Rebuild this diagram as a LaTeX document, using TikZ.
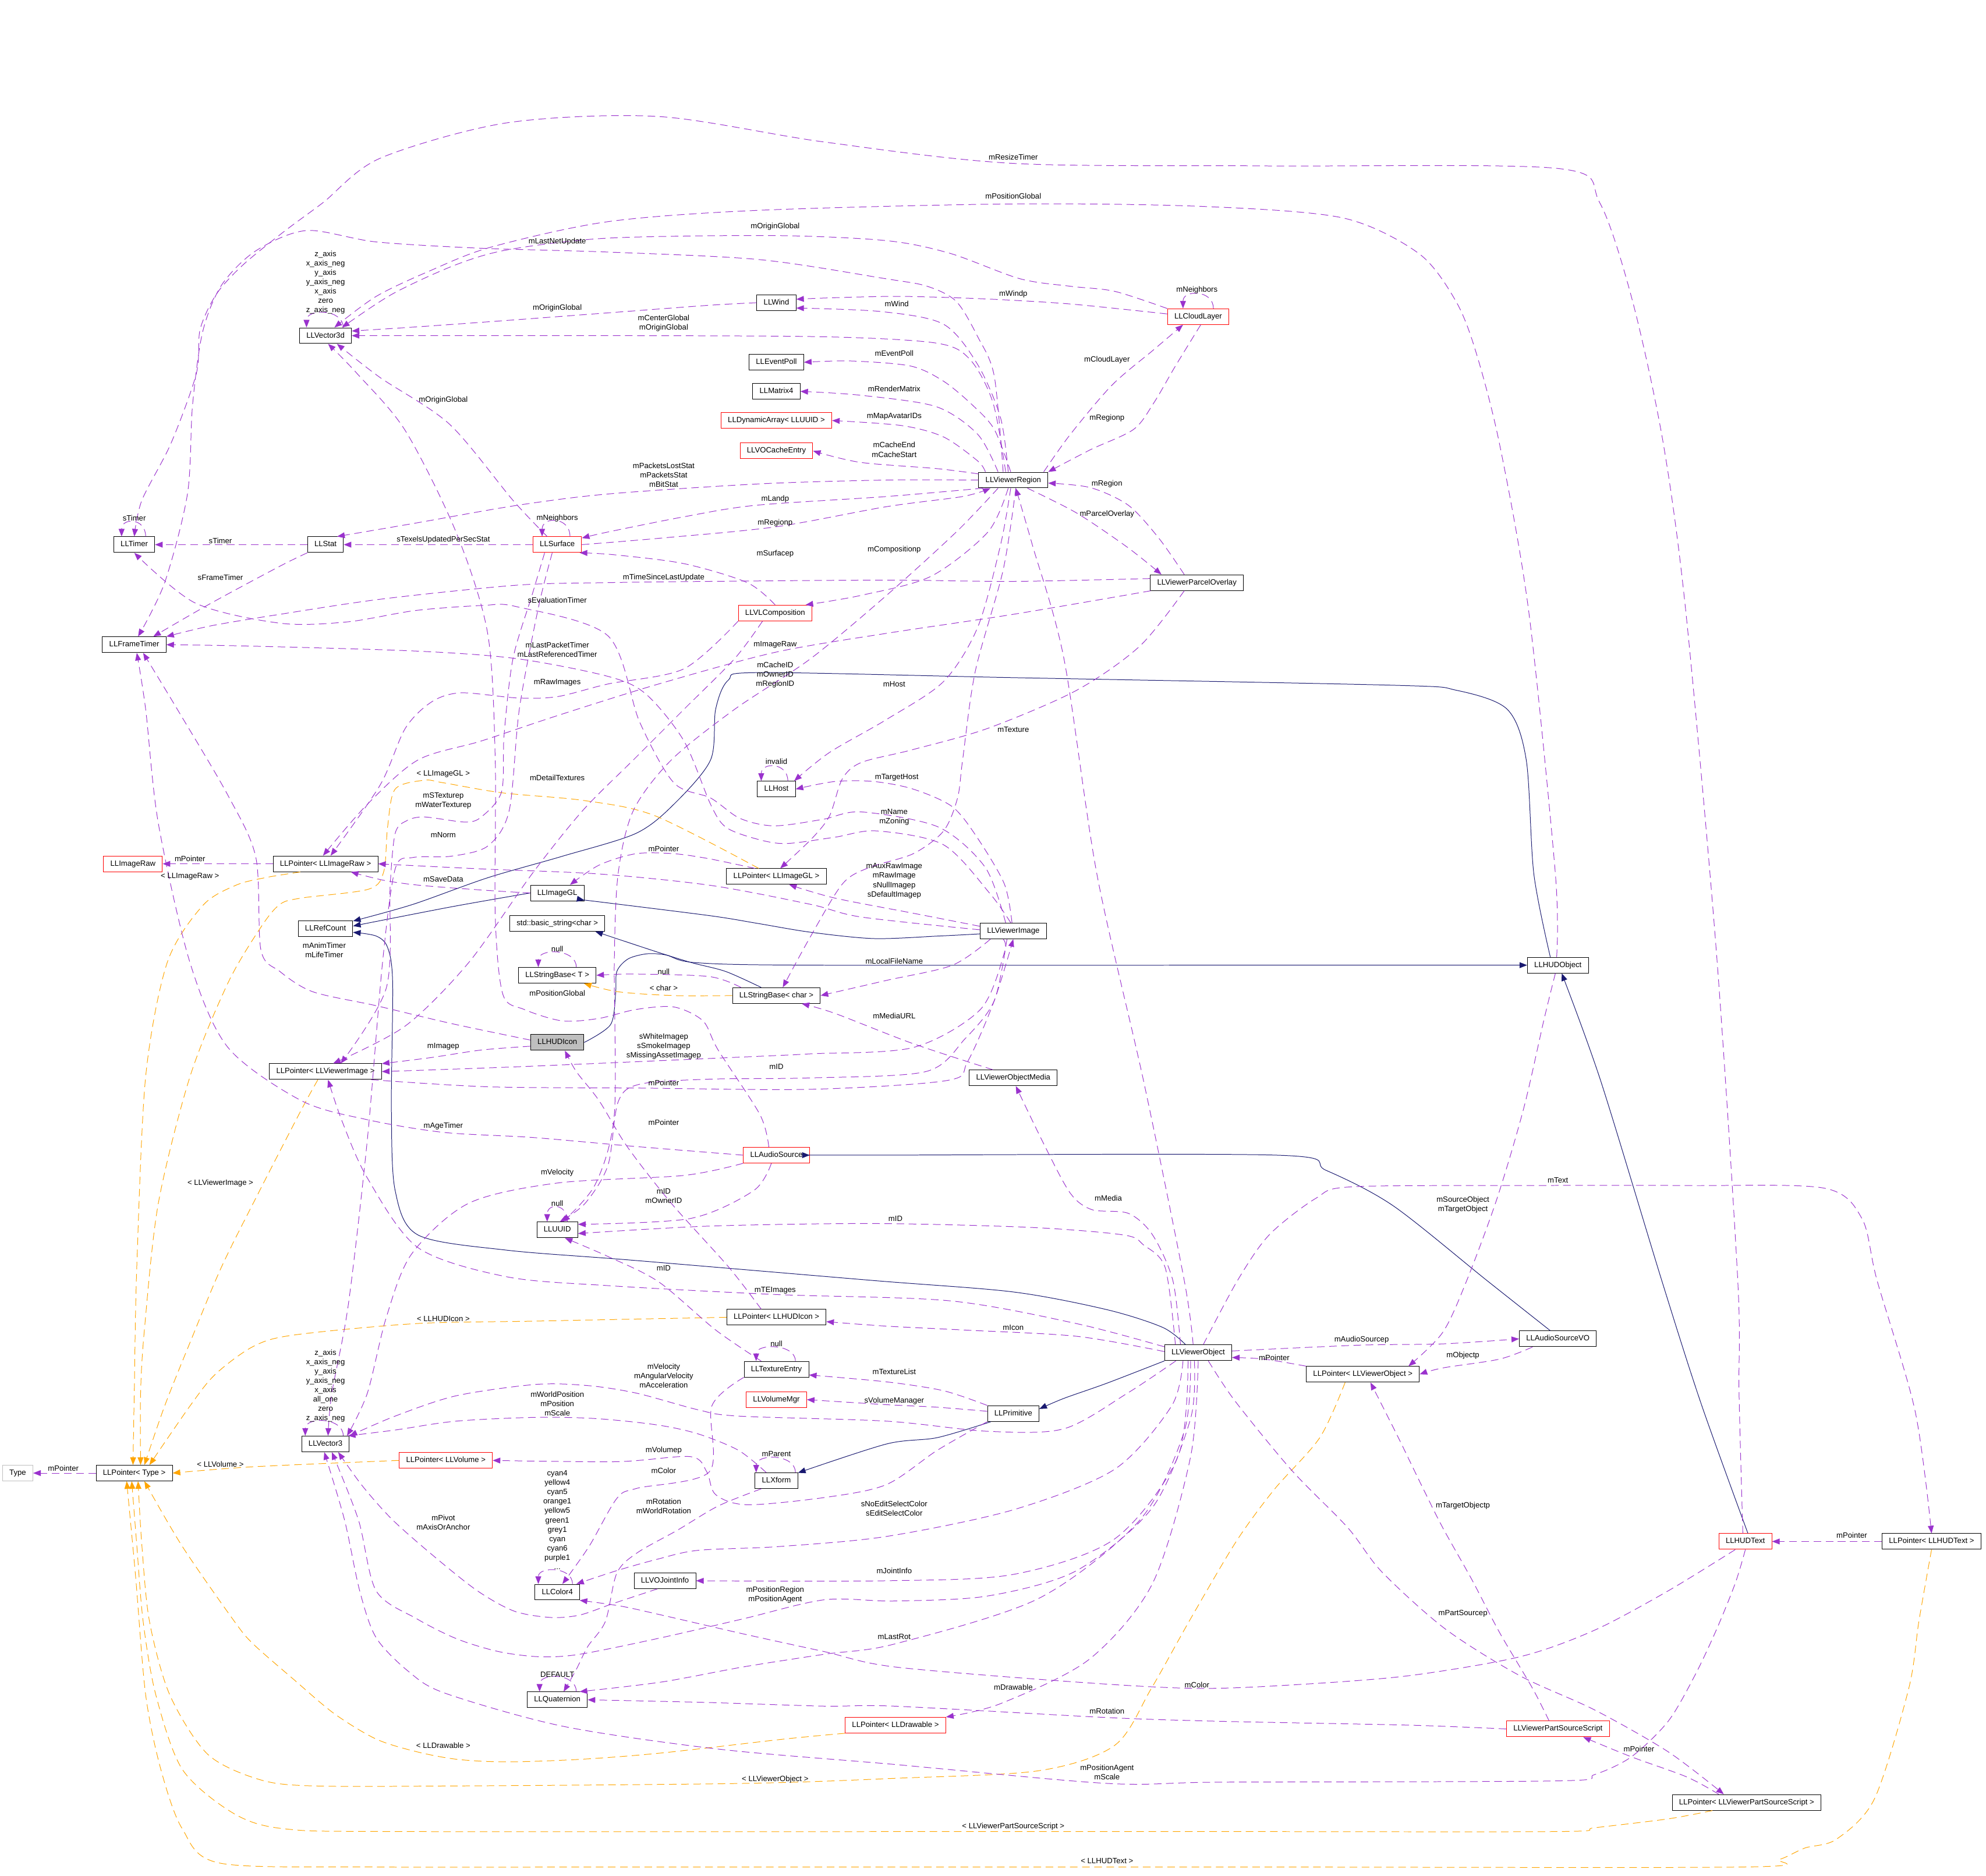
\documentclass[tikz,border=0pt]{standalone}
\usepackage{fontspec}
\setmainfont{Liberation Sans}
\usepackage{tikz}
\usetikzlibrary{arrows.meta}
\definecolor{memc}{RGB}{154,50,205}
\definecolor{inhc}{RGB}{25,25,112}
\definecolor{tplc}{RGB}{255,165,0}
\definecolor{docc}{RGB}{191,191,191}
\newcommand{\dxf}{\fontsize{8.6}{10.5}\selectfont}

\begin{document}
\begin{tikzpicture}[x=0.05cm, y=-0.05cm, line width=0.65pt,
  cls/.style={draw, font=\dxf, inner xsep=0.27cm, inner ysep=0pt, minimum height=0.62cm, text height=6.3pt, text depth=1.7pt},
  undoc/.style={cls, draw=red},
  doc/.style={cls, fill=docc},
  ext/.style={cls, draw=docc},
  lbl/.style={font=\dxf, align=center, inner sep=0pt},
  hd/.style={-{Triangle[length=3mm, width=2.3mm]}},
  mem/.style={hd, draw=memc, dash pattern=on 3mm off 1.8mm},
  inh/.style={hd, draw=inhc},
  tpl/.style={hd, draw=tplc, dash pattern=on 3mm off 1.8mm}]
\useasboundingbox (0,0) rectangle (1568,1481);

% classes
\node[cls] (v3d) at (257,265) {LLVector3d};
\node[cls] (wind) at (613,239) {LLWind};
\node[undoc] (cloud) at (946,250) {LLCloudLayer};
\node[cls] (poll) at (613,286) {LLEventPoll};
\node[cls] (mat) at (613,309) {LLMatrix4};
\node[undoc] (dyn) at (613,332) {LLDynamicArray< LLUUID >};
\node[undoc] (cache) at (613,356) {LLVOCacheEntry};
\node[cls] (reg) at (800,379) {LLViewerRegion};
\node[cls] (tmr) at (106,430) {LLTimer};
\node[cls] (stat) at (257,430) {LLStat};
\node[undoc] (surf) at (440,430) {LLSurface};
\node[cls] (parc) at (945,460) {LLViewerParcelOverlay};
\node[undoc] (comp) at (612,484) {LLVLComposition};
\node[cls] (ftmr) at (106,509) {LLFrameTimer};
\node[cls] (host) at (613,623) {LLHost};
\node[undoc] (raw) at (105,682) {LLImageRaw};
\node[cls] (praw) at (257,682) {LLPointer< LLImageRaw >};
\node[cls] (pgl) at (613,692) {LLPointer< LLImageGL >};
\node[cls] (gl) at (440,705) {LLImageGL};
\node[cls] (ref) at (257,733) {LLRefCount};
\node[cls] (bstr) at (440,729) {std::basic\_string<char >};
\node[cls] (vimg) at (800,735) {LLViewerImage};
\node[cls] (hobj) at (1230,762) {LLHUDObject};
\node[cls] (sbt) at (440,770) {LLStringBase< T >};
\node[cls] (sbc) at (613,786) {LLStringBase< char >};
\node[doc] (icon) at (440,823) {LLHUDIcon};
\node[cls] (pvimg) at (257,846) {LLPointer< LLViewerImage >};
\node[cls] (media) at (800,851) {LLViewerObjectMedia};
\node[undoc] (asrc) at (613,912) {LLAudioSource};
\node[cls] (uuid) at (440,971) {LLUUID};
\node[cls] (picon) at (613,1040) {LLPointer< LLHUDIcon >};
\node[cls] (vobj) at (946,1068) {LLViewerObject};
\node[cls] (asvo) at (1230,1057) {LLAudioSourceVO};
\node[cls] (tex) at (613,1081) {LLTextureEntry};
\node[cls] (pvobj) at (1076,1085) {LLPointer< LLViewerObject >};
\node[undoc] (vmgr) at (613,1105) {LLVolumeMgr};
\node[cls] (prim) at (800,1116) {LLPrimitive};
\node[cls] (v3) at (257,1140) {LLVector3};
\node[undoc] (pvol) at (352,1153) {LLPointer< LLVolume >};
\node[ext] (type) at (14,1163) {Type};
\node[cls] (ptype) at (106,1163) {LLPointer< Type >};
\node[cls] (xf) at (613,1169) {LLXform};
\node[undoc] (htxt) at (1378,1217) {LLHUDText};
\node[cls] (phtxt) at (1525,1217) {LLPointer< LLHUDText >};
\node[cls] (joint) at (525,1248) {LLVOJointInfo};
\node[cls] (col) at (440,1257) {LLColor4};
\node[cls] (quat) at (440,1342) {LLQuaternion};
\node[undoc] (pss) at (1230,1365) {LLViewerPartSourceScript};
\node[undoc] (pdraw) at (707,1362) {LLPointer< LLDrawable >};
\node[cls] (ppss) at (1379,1423) {LLPointer< LLViewerPartSourceScript >};

% inheritance
\draw[inh] plot[smooth] coordinates {(icon.east) (482,809) (486,785) (487,767) (496,757) (511,753) (526,754) (549,760) (640,762) (1000,762) (hobj.west)};
\draw[inh] plot[smooth] coordinates {([xshift=-3mm]hobj.north) (1211,690) (1205,600) (1190,560) (1150,545) (1100,541) (800,535) (600,531) (575,537) (565,560) (561,600) (532,635) (502,658) (444,676) (385,693) (326,714) (ref.15)};
\draw[inh] plot[smooth] coordinates {(gl.west) (356,716) (ref.5)};
\draw[inh] plot[smooth] coordinates {([xshift=-5mm]vobj.north) (918,1048) (874,1034) (800,1020) (690,1011) (500,995) (400,987) (330,975) (312,940) (309,876) (310,776) (306,748) (297,739) (ref.-8)};
\draw[inh] plot[smooth] coordinates {(vimg.185) (741,739) (690,741) (640,736) (598,729) (561,723) (473,712) (gl.-15)};
\draw[inh] plot[smooth] coordinates {([xshift=-6mm]sbc.north) (573,767) (546,760) (517,751) ([xshift=15mm]bstr.south)};
\draw[inh] plot[smooth] coordinates {([xshift=-3mm]asvo.north) (1174,1011) (1100,952) (1047,924) (1008,912) (690,912) (asrc.east)};
\draw[inh] plot[smooth] coordinates {(vobj.south west) (874,1092) (840,1104) (prim.10)};
\draw[inh] plot[smooth] coordinates {(prim.-160) (740,1135) (700,1140) (xf.20)};
\draw[inh] plot[smooth] coordinates {([xshift=1mm]htxt.north) (1343,1108) (1312,1011) (1264,854) ([xshift=1.5mm]hobj.south)};

% templates
\draw[tpl] plot[smooth] coordinates {([xshift=-10mm]praw.south) (209,693) (186,699) (160,715) (132,760) (115,850) (108,1000) (106,1100) ([xshift=-0.5mm]ptype.north)};
\draw[tpl] plot[smooth] coordinates {([xshift=-7mm]pgl.north) (517,644) (461,632) (397,626) (350,618) (335,616) (312,623) (306,653) (303,688) (291,702) (238,709) (221,714) (206,732) (180,776) (150,850) (125,950) (114,1050) (111,1100) ([xshift=2.5mm]ptype.north)};
\draw[tpl] plot[smooth] coordinates {([xshift=-3mm]pvimg.south) (238,876) (205,940) (175,1000) (150,1060) (130,1110) ([xshift=4mm]ptype.north)};
\draw[tpl] plot[smooth] coordinates {(picon.west) (423,1043) (328,1045) (232,1054) (200,1063) (170,1085) (150,1110) ([xshift=6mm]ptype.north)};
\draw[tpl] plot[smooth] coordinates {(pvol.west) (200,1158) (ptype.east)};
\draw[tpl] plot[smooth] coordinates {(pdraw.south west) (619,1373) (522,1384) (458,1389) (400,1391) (361,1389) (329,1383) (297,1373) (264,1353) (232,1326) (200,1298) (185,1280) (144,1221) ([xshift=4mm]ptype.south)};
\draw[tpl] plot[smooth] coordinates {([xshift=-7mm]pvobj.south) (1042,1135) (1006,1176) (976,1217) (940,1278) (909,1333) (880,1378) (820,1398) (706,1404) (587,1408) (361,1410) (248,1410) (205,1405) (164,1385) (134,1338) (118,1280) (112,1220) ([xshift=1.5mm]ptype.south)};
\draw[tpl] plot[smooth] coordinates {([xshift=-13.5mm]ppss.south) (1317,1436) (1259,1443) (1230,1446) (965,1446) (800,1446) (322,1446) (226,1444) (185,1432) (144,1397) (123,1338) (113,1280) (108,1220) ([xshift=-1mm]ptype.south)};
\draw[tpl] plot[smooth] coordinates {(phtxt.south) (1515,1280) (1507,1333) (1480,1420) (1450,1452) (1425,1459) (1405,1468) (1376,1474) (965,1474) (500,1474) (300,1474) (174,1471) (144,1444) (127,1397) (115,1338) (107,1244) ([xshift=-3mm]ptype.south)};
\draw[tpl] plot[smooth] coordinates {(sbc.west) (532,786) (488,783) ([xshift=10.5mm]sbt.south)};

% members: top part
\draw[mem] plot[smooth] coordinates {([xshift=-1mm]htxt.north) (1373,1100) (1372,1011) (1355,750) (1331,483) (1313,349) (1289,238) (1263,160) (1230,133) (1000,131) (800,129) (650,112) (520,92) (400,97) (300,125) (255,160) (224,183) (192,209) (171,232) (158,260) (155,295) (135,350) (112,395) (tmr.north)};
\draw[mem] plot[smooth] coordinates {([xshift=-0.5mm]hobj.north) (1228,690) (1207,483) (1184,351) (1165,277) (1149,237) (1120,200) (1060,172) (950,163) (800,161) (600,166) (480,175) (388,195) (339,214) (297,234) ([xshift=3.5mm]v3d.north)};
\draw[mem] plot[smooth] coordinates {(cloud.north west) (880,230) (845,226) (805,220) (750,200) (700,190) (612,186) (480,188) (402,197) (360,209) (310,232) ([xshift=6.5mm]v3d.north)};
\draw[mem] plot[smooth] coordinates {(cloud.175) (845,240) (778,236) (712,234) (660,235) (wind.10)};
\draw[mem] plot[smooth] coordinates {(wind.west) (560,241) (480,247) (400,253) (330,258) (v3d.10)};
\draw[mem] ([xshift=6mm]cloud.north) .. controls +(0,-15) and +(0,-15) .. ([xshift=-6mm]cloud.north);
\draw[mem] ([xshift=7mm]v3d.north) .. controls +(0,-15) and +(0,-15) .. ([xshift=-7.5mm]v3d.north);

% LLViewerRegion
\draw[mem] plot[smooth] coordinates {([xshift=-2mm]reg.north) (790,330) (772,288) (745,256) (696,246) (wind.-15)};
\draw[mem] plot[smooth] coordinates {([xshift=-3mm]reg.north) (784,318) (766,284) (740,271) (656,266) (500,265) (v3d.east)};
\draw[mem] plot[smooth] coordinates {([xshift=-1mm]reg.north) (785,339) (768,320) (745,301) (719,289) (672,285) (poll.east)};
\draw[mem] plot[smooth] coordinates {([xshift=-6mm]reg.north) (772,343) (739,321) (679,312) (mat.east)};
\draw[mem] plot[smooth] coordinates {([xshift=-11mm]reg.north) (772,364) (745,345) (712,336) (dyn.east)};
\draw[mem] plot[smooth] coordinates {(reg.170) (740,370) (679,365) (cache.east)};
\draw[mem] plot[smooth] coordinates {([xshift=-4mm]reg.north) (785,297) (772,266) (755,238) (732,226) (699,220) (600,205) (480,199) (380,196) (297,191) (242,182) (202,198) (175,225) (160,262) (152,320) (148,390) (130,460) ([xshift=1.5mm]ftmr.north)};
\draw[mem] plot[smooth] coordinates {(reg.west) (700,379) (600,382) (480,390) (408,399) (328,413) (stat.35)};
\draw[mem] plot[smooth] coordinates {(reg.-165) (700,392) (596,399) (540,408) (480,420) (surf.15)};
\draw[mem] plot[smooth] coordinates {(surf.east) (520,425) (612,416) (700,400) (760,392) ([xshift=-9mm]reg.south)};
\draw[mem] plot[smooth] coordinates {([xshift=-2mm]reg.south) (780,420) (735,455) (680,470) (comp.15)};
\draw[mem] plot[smooth] coordinates {(comp.north) (590,460) (540,445) (485,438) (surf.-20)};
\draw[mem] plot[smooth] coordinates {([xshift=12mm]reg.north) (845,343) (878,304) (911,276) ([xshift=-6mm]cloud.south)};
\draw[mem] plot[smooth] coordinates {([xshift=1mm]cloud.south) (928,289) (911,318) (895,339) (861,355) (reg.north east)};
\draw[mem] plot[smooth] coordinates {([xshift=-5mm]parc.north) (915,425) (891,399) (861,385) (reg.-5)};
\draw[mem] plot[smooth] coordinates {(reg.-30) (850,405) (890,432) ([xshift=-14mm]parc.north)};
\draw[mem] plot[smooth] coordinates {([xshift=-1mm]reg.south) (790,430) (772,495) (745,538) (700,568) (655,594) ([xshift=7mm]host.north)};
\draw[mem] plot[smooth] coordinates {([xshift=1mm]reg.south) (792,450) (770,530) (760,600) (756,630) (745,656) (721,674) (686,685) (665,698) (639,741) ([xshift=2.5mm]sbc.north)};
\draw[mem] plot[smooth] coordinates {([xshift=-6mm]reg.south) (755,420) (700,470) (640,520) (580,560) (530,600) (500,640) (488,690) (485,760) (485,880) (470,935) ([xshift=2mm]uuid.north)};

% timers, stats, surface
\draw[mem] ([xshift=4.5mm]tmr.north) .. controls +(0,-15) and +(0,-15) .. ([xshift=-5mm]tmr.north);
\draw[mem] (stat.west) -- (tmr.east);
\draw[mem] (surf.west) -- (stat.east);
\draw[mem] plot[smooth] coordinates {(stat.south west) (221,447) (167,476) ([xshift=7.5mm]ftmr.north)};
\draw[mem] plot[smooth] coordinates {(parc.175) (800,459) (700,458) (560,459) (480,460) (408,462) (301,473) (221,485) (167,494) (ftmr.north east)};
\draw[mem] ([xshift=5mm]surf.north) .. controls +(0,-16) and +(0,-16) .. ([xshift=-6mm]surf.north);
\draw[mem] plot[smooth] coordinates {([xshift=-4mm]surf.north) (405,395) (355,335) (300,298) ([xshift=4.5mm]v3d.south)};
\draw[mem] plot[smooth] coordinates {([xshift=-5mm]surf.south) (420,470) (405,520) (398,580) (396,625) (380,645) (367,649) (335,645) (321,648) (312,658) (308,700) (305,780) ([xshift=6mm]pvimg.north)};
\draw[mem] plot[smooth] coordinates {([xshift=-2mm]surf.south) (425,480) (410,560) (402,640) (385,668) (356,676) (326,677) (312,686) (302,760) (290,900) (275,1030) (262,1100) ([xshift=1mm]v3.north)};
\draw[mem] plot[smooth] coordinates {([xshift=-1mm]vimg.north) (782,706) (745,667) (692,656) (659,661) (620,666) (596,662) (573,653) (561,635) (540,585) (510,548) (480,534) (408,520) (328,514) (194,510) (ftmr.east)};
\draw[mem] plot[smooth] coordinates {([xshift=-3mm]vimg.north) (778,685) (741,653) (680,641) (649,647) (611,652) (584,646) (561,630) (532,618) (505,570) (480,502) (408,479) (381,478) (328,482) (274,491) (221,492) (154,476) (tmr.south)};

% images
\draw[mem] plot[smooth] coordinates {(parc.190) (800,485) (700,500) (612,515) (520,540) (440,565) (380,585) (330,600) (290,635) ([xshift=-1mm]praw.north)};
\draw[mem] plot[smooth] coordinates {([xshift=-5mm]parc.south) (900,510) (850,545) (780,575) (720,592) (680,602) (665,615) (655,644) (641,662) ([xshift=1.5mm]pgl.north)};
\draw[mem] plot[smooth] coordinates {(comp.south west) (540,528) (480,540) (440,550) (408,551) (364,547) (341,554) (320,575) (300,620) ([xshift=2mm]praw.north)};
\draw[mem] plot[smooth] coordinates {([xshift=-5mm]comp.south) (580,520) (540,560) (500,600) (460,640) (420,690) (370,760) (320,810) ([xshift=3mm]pvimg.north)};
\draw[mem] plot[smooth] coordinates {(gl.west) (385,703) (332,699) (303,695) ([xshift=10mm]praw.south)};
\draw[mem] plot[smooth] coordinates {(vimg.178) (680,724) (640,714) (561,699) (473,690) (380,686) (praw.east)};
\draw[mem] (praw.west) -- (raw.east);
\draw[mem] plot[smooth] coordinates {([xshift=-8.5mm]pgl.north) (560,678) (532,674) (502,674) (473,683) ([xshift=5mm]gl.north)};
\draw[mem] plot[smooth] coordinates {(vimg.172) (721,721) (659,709) ([xshift=5mm]pgl.south)};
\draw[mem] plot[smooth] coordinates {([xshift=-0.5mm]vimg.north) (793,698) (772,662) (752,637) (721,623) (690,617) (659,617) (host.east)};
\draw[mem] ([xshift=4.5mm]host.north) .. controls +(0,-15) and +(0,-15) .. ([xshift=-6mm]host.north);
\draw[mem] plot[smooth] coordinates {([xshift=-9mm]vimg.south) (752,762) (700,774) (sbc.east)};
\draw[mem] plot[smooth] coordinates {([xshift=-8mm]media.north) (721,824) (659,800) ([xshift=10mm]sbc.south)};
\draw[mem] plot[smooth] coordinates {([xshift=-14mm]sbc.north) (560,771) (500,769) (sbt.east)};
\draw[mem] ([xshift=7.5mm]sbt.north) .. controls +(0,-15) and +(0,-15) .. ([xshift=-7.5mm]sbt.north);
\draw[mem] plot[smooth] coordinates {(icon.175) (356,808) (297,794) (247,783) (221,767) (206,750) (202,677) (180,628) (140,560) ([xshift=3.5mm]ftmr.south)};
\draw[mem] plot[smooth] coordinates {(icon.188) (380,829) (340,835) (pvimg.8)};
\draw[mem] plot[smooth] coordinates {([xshift=-4mm]vimg.south) (793,752) (774,797) (721,827) (640,832) (598,834) (414,842) (pvimg.east)};
\draw[mem] plot[smooth] coordinates {([xshift=18mm]pvimg.south) (385,858) (502,859) (640,860) (748,853) (764,838) (785,790) (vimg.south)};
\draw[mem] plot[smooth] coordinates {([xshift=-2.5mm]vimg.south) (785,790) (762,820) (731,846) (640,851) (560,852) (505,856) (488,870) (480,920) (462,950) ([xshift=1mm]uuid.north)};

% audio source, icon pointer, uuid
\draw[mem] plot[smooth] coordinates {([xshift=-3mm]asrc.north) (600,880) (567,829) (555,806) (532,795) (502,797) (473,804) (444,806) (414,797) (397,785) (391,723) (391,600) (385,500) (360,420) (320,340) (282,295) ([xshift=1mm]v3d.south)};
\draw[mem] plot[smooth] coordinates {(asrc.west) (500,905) (420,898) (350,894) (290,884) (238,869) (180,827) (150,760) (125,650) (115,560) ([xshift=1mm]ftmr.south)};
\draw[mem] plot[smooth] coordinates {(asrc.south west) (540,928) (440,934) (370,950) (325,990) (305,1040) (290,1100) ([xshift=8.5mm]v3.north)};
\draw[mem] plot[smooth] coordinates {([xshift=-2mm]asrc.south) (595,940) (545,962) (uuid.15)};
\draw[mem] ([xshift=4mm]uuid.north) .. controls +(0,-15) and +(0,-15) .. ([xshift=-4mm]uuid.north);
\draw[mem] plot[smooth] coordinates {([xshift=-6mm]picon.north) (575,1000) (530,950) (495,905) (473,869) (455,846) ([xshift=3mm]icon.south)};
\draw[mem] plot[smooth] coordinates {([xshift=-6mm]tex.north) (565,1050) (520,1012) (480,992) ([xshift=3mm]uuid.south)};
\draw[mem] ([xshift=7.5mm]tex.north) .. controls +(0,-14) and +(0,-14) .. ([xshift=-8mm]tex.north);

% LLViewerObject
\draw[mem] plot[smooth] coordinates {([xshift=-2mm]vobj.north) (935,1011) (903,854) (866,690) (840,520) (815,430) ([xshift=1mm]reg.south)};
\draw[mem] plot[smooth] coordinates {([xshift=-9mm]vobj.north) (920,1001) (903,983) (887,975) (813,969) (690,966) (560,968) (uuid.-10)};
\draw[mem] plot[smooth] coordinates {([xshift=-7mm]vobj.north) (926,1011) (910,975) (891,958) (862,955) (845,942) (825,905) ([xshift=1mm]media.south)};
\draw[mem] plot[smooth] coordinates {([xshift=2mm]vobj.north) (977,1011) (1002,975) (1039,946) (1067,937) (1200,936) (1333,936) (1440,938) (1470,962) (1482,1011) (1512,1114) (phtxt.north)};
\draw[mem] plot[smooth] coordinates {(vobj.170) (850,1045) (750,1027) (612,1022) (480,1015) (400,1008) (330,985) (290,930) (270,885) ([xshift=1mm]pvimg.south)};
\draw[mem] plot[smooth] coordinates {(vobj.178) (850,1055) (760,1050) (700,1047) (picon.-5)};
\draw[mem] plot[smooth] coordinates {(pvobj.north west) (998,1073) (vobj.-8)};
\draw[mem] plot[smooth] coordinates {(vobj.3) (1073,1062) (1139,1061) (asvo.west)};
\draw[mem] plot[smooth] coordinates {([xshift=-10mm]asvo.south) (1184,1073) (1139,1080) (pvobj.east)};
\draw[mem] plot[smooth] coordinates {([xshift=-1mm]hobj.south) (1219,805) (1203,875) (1182,946) (1158,1011) (1139,1052) ([xshift=18mm]pvobj.north)};
\draw[mem] plot[smooth] coordinates {([xshift=-3.5mm]pss.north) (1210,1333) (1184,1289) (1162,1247) (1139,1206) (1122,1172) (1104,1135) ([xshift=3mm]pvobj.south)};
\draw[mem] plot[smooth] coordinates {([xshift=4mm]vobj.south) (975,1106) (1020,1161) (1064,1206) (1091,1241) (1141,1286) (1200,1323) (1259,1350) (1317,1383) ([xshift=-9mm]ppss.north)};
\draw[mem] plot[smooth] coordinates {([xshift=-11mm]ppss.north) (1332,1403) (1288,1387) ([xshift=10mm]pss.south)};
\draw[mem] (phtxt.west) -- (htxt.east);
\draw[mem] plot[smooth] coordinates {([xshift=-4mm]htxt.south) (1317,1256) (1259,1287) (1200,1308) (1112,1323) (1024,1330) (945,1333) (850,1328) (706,1316) (651,1304) (587,1290) (522,1275) (490,1268) (col.-20)};
\draw[mem] plot[smooth] coordinates {(htxt.south) (1370,1250) (1355,1287) (1338,1323) (1317,1359) (1288,1387) (1259,1401) (1230,1406) (965,1407) (874,1408) (706,1393) (568,1381) (445,1363) (352,1337) (323,1320) (297,1293) (284,1256) (272,1200) ([xshift=-0.5mm]v3.south)};
\draw[mem] plot[smooth] coordinates {([xshift=-1.5mm]vobj.south) (940,1120) (910,1190) (850,1240) (780,1260) (706,1264) (651,1263) (587,1278) (522,1293) (458,1306) (426,1308) (394,1304) (361,1294) (329,1278) (297,1256) (283,1200) ([xshift=2.5mm]v3.south)};
\draw[mem] plot[smooth] coordinates {([xshift=-3mm]joint.south) (484,1266) (458,1275) (435,1277) (406,1272) (377,1256) (343,1229) (310,1200) (286,1173) ([xshift=5mm]v3.south)};
\draw[mem] plot[smooth] coordinates {([xshift=-4mm]vobj.south) (930,1150) (880,1215) (800,1243) (700,1248) (joint.east)};
\draw[mem] plot[smooth] coordinates {([xshift=-6mm]vobj.south) (925,1110) (880,1160) (800,1192) (700,1213) (615,1221) (551,1224) (519,1231) (487,1240) ([xshift=7.5mm]col.north)};
\draw[mem] plot[smooth] coordinates {([xshift=-3mm]vobj.south) (935,1130) (900,1200) (820,1262) (706,1298) (651,1306) (587,1316) (522,1328) (quat.20)};
\draw[mem] plot[smooth] coordinates {(pss.west) (1112,1362) (965,1359) (874,1356) (706,1347) (651,1347) (555,1344) (quat.east)};
\draw[mem] plot[smooth] coordinates {(vobj.south) (940,1150) (910,1250) (860,1310) (790,1345) (pdraw.north east)};
\draw[mem] plot[smooth] coordinates {(vobj.-160) (890,1100) (840,1128) (780,1130) (700,1122) (583,1118) (551,1113) (503,1100) (465,1094) (423,1093) (360,1102) (312,1118) (v3.north east)};

% LLPrimitive, LLXform, LLTextureEntry
\draw[mem] plot[smooth] coordinates {(prim.north west) (745,1098) (700,1091) (tex.-10)};
\draw[mem] plot[smooth] coordinates {(prim.175) (740,1111) (700,1109) (vmgr.east)};
\draw[mem] plot[smooth] coordinates {(prim.south west) (740,1145) (700,1172) (653,1182) (590,1188) (565,1180) (558,1162) (545,1150) (487,1154) (pvol.east)};
\draw[mem] plot[smooth] coordinates {([xshift=-4mm]xf.north) (583,1145) (551,1132) (519,1125) (471,1120) (423,1119) (360,1122) (312,1129) (v3.20)};
\draw[mem] ([xshift=7.5mm]xf.north) .. controls +(0,-15) and +(0,-15) .. ([xshift=-8mm]xf.north);
\draw[mem] plot[smooth] coordinates {([xshift=-6mm]xf.south) (567,1189) (535,1208) (503,1226) (487,1242) (478,1280) (464,1300) (455,1318) ([xshift=2.5mm]quat.north)};
\draw[mem] plot[smooth] coordinates {(tex.south west) (562,1110) (560,1162) (503,1175) (487,1183) (465,1221) ([xshift=2mm]col.north)};
\draw[mem] ([xshift=6mm]col.north) .. controls +(0,-14) and +(0,-14) .. ([xshift=-7.5mm]col.north);
\draw[mem] ([xshift=7.5mm]quat.north) .. controls +(0,-15) and +(0,-15) .. ([xshift=-7mm]quat.north);
\draw[mem] ([xshift=7mm]v3.north) .. controls +(0,-15) and +(0,-15) .. ([xshift=-8mm]v3.north);
\draw[mem] (ptype.west) -- (type.east);

% labels
\node[lbl] (l1) at (800,124) {mResizeTimer};
\node[lbl] (l2) at (800,155) {mPositionGlobal};
\node[lbl] (l3) at (612,179) {mOriginGlobal};
\node[lbl] (l4) at (440,191) {mLastNetUpdate};
\node[lbl] (l5) at (257,223) {z\_axis\\x\_axis\_neg\\y\_axis\\y\_axis\_neg\\x\_axis\\zero\\z\_axis\_neg};
\node[lbl] (l6) at (945,229) {mNeighbors};
\node[lbl] (l7) at (800,232) {mWindp};
\node[lbl] (l8) at (440,243) {mOriginGlobal};
\node[lbl] (l9) at (708,240) {mWind};
\node[lbl] (l10) at (524,255) {mCenterGlobal\\mOriginGlobal};
\node[lbl] (l11) at (706,279) {mEventPoll};
\node[lbl] (l12) at (874,284) {mCloudLayer};
\node[lbl] (l13) at (706,307) {mRenderMatrix};
\node[lbl] (l14) at (350,316) {mOriginGlobal};
\node[lbl] (l15) at (706,329) {mMapAvatarIDs};
\node[lbl] (l16) at (874,330) {mRegionp};
\node[lbl] (l17) at (706,355) {mCacheEnd\\mCacheStart};
\node[lbl] (l18) at (524,375) {mPacketsLostStat\\mPacketsStat\\mBitStat};
\node[lbl] (l19) at (874,382) {mRegion};
\node[lbl] (l20) at (612,394) {mLandp};
\node[lbl] (l21) at (106,409) {sTimer};
\node[lbl] (l22) at (440,409) {mNeighbors};
\node[lbl] (l23) at (874,406) {mParcelOverlay};
\node[lbl] (l24) at (612,413) {mRegionp};
\node[lbl] (l25) at (174,427) {sTimer};
\node[lbl] (l26) at (350,426) {sTexelsUpdatedPerSecStat};
\node[lbl] (l27) at (706,434) {mCompositionp};
\node[lbl] (l28) at (612,437) {mSurfacep};
\node[lbl] (l29) at (174,456) {sFrameTimer};
\node[lbl] (l30) at (524,456) {mTimeSinceLastUpdate};
\node[lbl] (l31) at (440,474) {sEvaluationTimer};
\node[lbl] (l32) at (440,513) {mLastPacketTimer\\mLastReferencedTimer};
\node[lbl] (l33) at (612,509) {mImageRaw};
\node[lbl] (l34) at (612,533) {mCacheID\\mOwnerID\\mRegionID};
\node[lbl] (l35) at (440,539) {mRawImages};
\node[lbl] (l36) at (706,540) {mHost};
\node[lbl] (l37) at (800,576) {mTexture};
\node[lbl] (l38) at (613,601) {invalid};
\node[lbl] (l39) at (350,611) {< LLImageGL >};
\node[lbl] (l40) at (440,614) {mDetailTextures};
\node[lbl] (l41) at (708,614) {mTargetHost};
\node[lbl] (l42) at (350,632) {mSTexturep\\mWaterTexturep};
\node[lbl] (l43) at (706,645) {mName\\mZoning};
\node[lbl] (l44) at (350,659) {mNorm};
\node[lbl] (l45) at (524,670) {mPointer};
\node[lbl] (l46) at (150,678) {mPointer};
\node[lbl] (l47) at (706,688) {mAuxRawImage\\mRawImage};
\node[lbl] (l48) at (150,692) {< LLImageRaw >};
\node[lbl] (l49) at (350,694) {mSaveData};
\node[lbl] (l50) at (706,703) {sNullImagep\\sDefaultImagep};
\node[lbl] (l51) at (256,750) {mAnimTimer\\mLifeTimer};
\node[lbl] (l52) at (440,749) {null};
\node[lbl] (l53) at (706,759) {mLocalFileName};
\node[lbl] (l54) at (524,767) {null};
\node[lbl] (l55) at (524,780) {< char >};
\node[lbl] (l56) at (440,784) {mPositionGlobal};
\node[lbl] (l57) at (706,802) {mMediaURL};
\node[lbl] (l58) at (350,826) {mImagep};
\node[lbl] (l59) at (524,826) {sWhiteImagep\\sSmokeImagep\\sMissingAssetImagep};
\node[lbl] (l60) at (613,842) {mID};
\node[lbl] (l61) at (524,855) {mPointer};
\node[lbl] (l62) at (350,889) {mAgeTimer};
\node[lbl] (l63) at (524,886) {mPointer};
\node[lbl] (l64) at (440,926) {mVelocity};
\node[lbl] (l65) at (174,934) {< LLViewerImage >};
\node[lbl] (l66) at (524,944) {mID\\mOwnerID};
\node[lbl] (l67) at (440,950) {null};
\node[lbl] (l68) at (1230,932) {mText};
\node[lbl] (l69) at (1155,951) {mSourceObject\\mTargetObject};
\node[lbl] (l70) at (875,946) {mMedia};
\node[lbl] (l71) at (707,962) {mID};
\node[lbl] (l72) at (524,1001) {mID};
\node[lbl] (l73) at (612,1019) {mTEImages};
\node[lbl] (l74) at (350,1041) {< LLHUDIcon >};
\node[lbl] (l75) at (800,1048) {mIcon};
\node[lbl] (l76) at (257,1094) {z\_axis\\x\_axis\_neg\\y\_axis\\y\_axis\_neg\\x\_axis\\all\_one\\zero\\z\_axis\_neg};
\node[lbl] (l77) at (613,1061) {null};
\node[lbl] (l78) at (524,1086) {mVelocity\\mAngularVelocity\\mAcceleration};
\node[lbl] (l79) at (1075,1058) {mAudioSourcep};
\node[lbl] (l80) at (1006,1072) {mPointer};
\node[lbl] (l81) at (1155,1070) {mObjectp};
\node[lbl] (l82) at (706,1083) {mTextureList};
\node[lbl] (l83) at (440,1108) {mWorldPosition\\mPosition\\mScale};
\node[lbl] (l84) at (706,1106) {sVolumeManager};
\node[lbl] (l85) at (524,1145) {mVolumep};
\node[lbl] (l86) at (613,1148) {mParent};
\node[lbl] (l87) at (174,1156) {< LLVolume >};
\node[lbl] (l88) at (50,1159) {mPointer};
\node[lbl] (l89) at (440,1200) {cyan4\\yellow4\\cyan5\\orange1\\yellow5\\green1\\grey1\\cyan\\cyan6\\purple1\\...};
\node[lbl] (l90) at (524,1161) {mColor};
\node[lbl] (l91) at (350,1202) {mPivot\\mAxisOrAnchor};
\node[lbl] (l92) at (524,1189) {mRotation\\mWorldRotation};
\node[lbl] (l93) at (706,1191) {sNoEditSelectColor\\sEditSelectColor};
\node[lbl] (l94) at (1462,1212) {mPointer};
\node[lbl] (l95) at (706,1240) {mJointInfo};
\node[lbl] (l96) at (612,1259) {mPositionRegion\\mPositionAgent};
\node[lbl] (l97) at (1155,1189) {mTargetObjectp};
\node[lbl] (l98) at (1155,1274) {mPartSourcep};
\node[lbl] (l99) at (706,1292) {mLastRot};
\node[lbl] (l100) at (440,1322) {DEFAULT};
\node[lbl] (l101) at (800,1332) {mDrawable};
\node[lbl] (l102) at (945,1330) {mColor};
\node[lbl] (l103) at (874,1351) {mRotation};
\node[lbl] (l104) at (1294,1381) {mPointer};
\node[lbl] (l105) at (350,1378) {< LLDrawable >};
\node[lbl] (l106) at (612,1405) {< LLViewerObject >};
\node[lbl] (l107) at (874,1399) {mPositionAgent\\mScale};
\node[lbl] (l108) at (800,1442) {< LLViewerPartSourceScript >};
\node[lbl] (l109) at (874,1469) {< LLHUDText >};
\end{tikzpicture}
\end{document}
